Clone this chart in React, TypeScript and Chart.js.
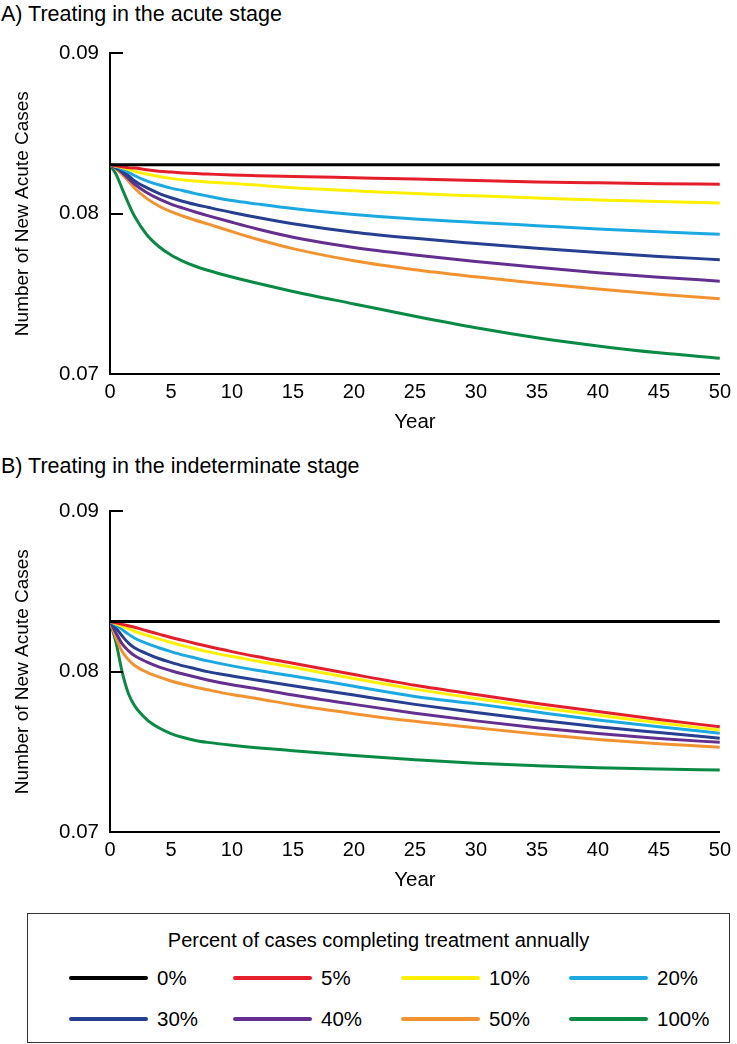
import React, { useEffect, useRef } from "react";
import { Chart, registerables } from "chart.js";

Chart.register(...registerables);

const years = [0, 0.5, 1, 1.5, 2, 3, 4, 5, 6, 7, 8, 10, 12, 15, 20, 25, 30, 35, 40, 45, 50];
const xTickStep = 5;
const yTickLabels = ["0.07", "0.08", "0.09"];
const seriesLabels = ["0%", "5%", "10%", "20%", "30%", "40%", "50%", "100%"];
const seriesColors = ["#000000", "#e41f2b", "#fff000", "#1ba9e1", "#263f90", "#64308f", "#f29331", "#0a8b45"];

// Panel A: treating in the acute stage
const acute0 = [0.08305, 0.08305, 0.08305, 0.08305, 0.08305, 0.08305, 0.08305, 0.08305, 0.08305, 0.08305, 0.08305, 0.08305, 0.08305, 0.08305, 0.08305, 0.08305, 0.08305, 0.08305, 0.08305, 0.08305, 0.08305];
const acute5 = [0.08305, 0.08299, 0.08293, 0.08287, 0.08284, 0.08274, 0.08265, 0.08259, 0.08254, 0.0825, 0.08247, 0.08241, 0.08237, 0.08232, 0.08224, 0.08216, 0.08207, 0.08198, 0.08192, 0.08187, 0.08183];
const acute10 = [0.08305, 0.08296, 0.08287, 0.08276, 0.08265, 0.08247, 0.08232, 0.0822, 0.0821, 0.08204, 0.08198, 0.08189, 0.08178, 0.08162, 0.08143, 0.08125, 0.08111, 0.08098, 0.08085, 0.08076, 0.08067];
const acute20 = [0.08305, 0.08293, 0.08277, 0.08259, 0.08238, 0.08204, 0.0818, 0.08159, 0.08143, 0.08125, 0.0811, 0.08082, 0.08061, 0.08032, 0.07995, 0.07966, 0.07945, 0.07925, 0.07905, 0.07887, 0.07872];
const acute30 = [0.08305, 0.08287, 0.08265, 0.08238, 0.08205, 0.08162, 0.08127, 0.08099, 0.08076, 0.08057, 0.0804, 0.08007, 0.07977, 0.07937, 0.07884, 0.07846, 0.07814, 0.07784, 0.07757, 0.07733, 0.07713];
const acute40 = [0.08305, 0.08284, 0.08256, 0.0822, 0.08185, 0.08132, 0.08092, 0.0806, 0.08034, 0.0801, 0.07988, 0.07946, 0.07906, 0.07853, 0.07789, 0.07742, 0.07702, 0.07665, 0.07632, 0.07604, 0.07579];
const acute50 = [0.08305, 0.0828, 0.08244, 0.08205, 0.0816, 0.08095, 0.08048, 0.08012, 0.07984, 0.07959, 0.07936, 0.07888, 0.07842, 0.07782, 0.07706, 0.0765, 0.07606, 0.07566, 0.0753, 0.07498, 0.0747];
const acute100 = [0.08305, 0.08245, 0.08155, 0.08065, 0.07985, 0.0787, 0.07795, 0.07742, 0.07703, 0.07672, 0.07647, 0.07605, 0.07567, 0.07515, 0.07437, 0.0736, 0.07288, 0.07226, 0.07175, 0.07132, 0.07098];

// Panel B: treating in the indeterminate stage
const indet0 = [0.08313, 0.08313, 0.08313, 0.08313, 0.08313, 0.08313, 0.08313, 0.08313, 0.08313, 0.08313, 0.08313, 0.08313, 0.08313, 0.08313, 0.08313, 0.08313, 0.08313, 0.08313, 0.08313, 0.08313, 0.08313];
const indet5 = [0.08313, 0.08304, 0.08295, 0.08286, 0.08277, 0.08255, 0.08234, 0.08213, 0.08195, 0.08176, 0.08158, 0.08125, 0.08094, 0.08052, 0.07982, 0.07915, 0.07857, 0.07802, 0.07751, 0.07702, 0.07656];
const indet10 = [0.08313, 0.08298, 0.08283, 0.08268, 0.08252, 0.08228, 0.08204, 0.08182, 0.08161, 0.08143, 0.08125, 0.08094, 0.08067, 0.08027, 0.07957, 0.07891, 0.07833, 0.07778, 0.07729, 0.07681, 0.07636];
const indet20 = [0.08313, 0.08289, 0.08262, 0.08234, 0.0821, 0.08176, 0.08149, 0.08125, 0.08103, 0.08085, 0.08067, 0.08036, 0.08009, 0.07973, 0.07909, 0.07845, 0.07799, 0.07748, 0.07699, 0.07656, 0.07616];
const indet30 = [0.08313, 0.08271, 0.08222, 0.08179, 0.08149, 0.08113, 0.08082, 0.08058, 0.08036, 0.08018, 0.08, 0.07973, 0.07948, 0.07912, 0.07854, 0.07796, 0.07745, 0.07699, 0.07656, 0.0762, 0.07585];
const indet40 = [0.08313, 0.0824, 0.08173, 0.08131, 0.081, 0.08061, 0.0803, 0.08006, 0.07985, 0.07967, 0.07948, 0.07918, 0.07894, 0.07854, 0.07796, 0.07741, 0.07693, 0.0765, 0.07614, 0.07583, 0.07559];
const indet50 = [0.08313, 0.0821, 0.08125, 0.08076, 0.0804, 0.07997, 0.07967, 0.07942, 0.07921, 0.07903, 0.07887, 0.07857, 0.07833, 0.07793, 0.07738, 0.0769, 0.0765, 0.07611, 0.07577, 0.0755, 0.07529];
const indet100 = [0.08313, 0.08179, 0.07997, 0.07865, 0.0779, 0.07703, 0.0765, 0.07614, 0.07589, 0.07571, 0.07559, 0.07541, 0.07526, 0.07507, 0.07477, 0.0745, 0.07428, 0.07413, 0.07401, 0.07393, 0.07387];

const acuteSeries = [acute0, acute5, acute10, acute20, acute30, acute40, acute50, acute100];
const indetSeries = [indet0, indet5, indet10, indet20, indet30, indet40, indet50, indet100];

const FONT = 'Arial, "Liberation Sans", Helvetica, sans-serif';

const inwardTicks = {
  id: "inwardTicks",
  afterDraw(chart: any) {
    const ys = chart.scales.y;
    const ctx = chart.ctx;
    const left = chart.chartArea.left;
    ctx.save();
    ctx.strokeStyle = "#000";
    ctx.lineWidth = 2;
    ys.ticks.forEach((t: any) => {
      const py = Math.round(ys.getPixelForValue(t.value));
      ctx.beginPath();
      ctx.moveTo(left, py);
      ctx.lineTo(left + 13, py);
      ctx.stroke();
    });
    ctx.restore();
  },
};

function Panel({ series, top }: { series: number[][]; top: number }) {
  const ref = useRef<HTMLCanvasElement>(null);
  useEffect(() => {
    if (!ref.current) return;
    const chart = new Chart(ref.current, {
      type: "line",
      data: {
        datasets: series.map((arr, i) => ({
          label: seriesLabels[i],
          data: years.map((x, j) => ({ x, y: arr[j] })),
          borderColor: seriesColors[i],
          backgroundColor: seriesColors[i],
          borderWidth: 3,
          pointRadius: 0,
          cubicInterpolationMode: "monotone" as const,
          fill: false,
        })),
      },
      options: {
        animation: false,
        responsive: false,
        devicePixelRatio: 1,
        layout: { padding: { left: 7, right: 15, top: 16, bottom: 0 } },
        plugins: { legend: { display: false }, tooltip: { enabled: false } },
        scales: {
          x: {
            type: "linear",
            min: 0,
            max: 50,
            grid: { display: false, drawTicks: false },
            border: { display: true, color: "#000", width: 2 },
            ticks: {
              stepSize: xTickStep,
              padding: 6,
              color: "#000",
              font: { family: FONT, size: 20 },
              maxRotation: 0,
              autoSkip: false,
            },
            title: {
              display: true,
              text: "Year",
              color: "#000",
              font: { family: FONT, size: 20.5 },
              padding: { top: 4, bottom: 4 },
            },
            afterFit(scale: any) {
              scale.height = 65;
            },
          },
          y: {
            type: "linear",
            min: 0.07,
            max: 0.09,
            grid: { display: false, drawTicks: false },
            border: { display: true, color: "#000", width: 2 },
            ticks: {
              stepSize: 0.01,
              padding: 11,
              color: "#000",
              font: { family: FONT, size: 20.5 },
              callback: (v: any) => {
                const s = Number(v).toFixed(2);
                return yTickLabels.includes(s) ? s : "";
              },
            },
            title: {
              display: true,
              text: "Number of New Acute Cases",
              color: "#000",
              font: { family: FONT, size: 19 },
              padding: { top: 4, bottom: 4 },
            },
            afterFit(scale: any) {
              scale.width = 103;
            },
          },
        },
      },
      plugins: [inwardTicks],
    } as any);
    return () => chart.destroy();
  }, [series]);
  return (
    <canvas
      ref={ref}
      width={737}
      height={409}
      style={{ position: "absolute", left: 0, top, width: 737, height: 409 }}
    />
  );
}

function LegendBox() {
  const colX = [41, 205, 373, 541];
  const rowY = [64, 105];
  return (
    <div
      style={{
        position: "absolute",
        left: 27,
        top: 913,
        width: 703,
        height: 130,
        border: "1.5px solid #333",
        boxSizing: "border-box",
        fontFamily: FONT,
        color: "#000",
      }}
    >
      <div
        style={{
          position: "absolute",
          left: 0,
          width: "100%",
          top: 14,
          height: 24,
          lineHeight: "24px",
          textAlign: "center",
          fontSize: 20,
          whiteSpace: "nowrap",
        }}
      >
        Percent of cases completing treatment annually
      </div>
      {seriesLabels.map((lab, i) => {
        const cx = colX[i % 4];
        const cy = rowY[Math.floor(i / 4)];
        return (
          <div key={lab}>
            <div
              style={{
                position: "absolute",
                left: cx,
                top: cy - 2,
                width: 79,
                height: 4,
                borderRadius: 2,
                background: seriesColors[i],
              }}
            />
            <div
              style={{
                position: "absolute",
                left: cx + 88,
                top: cy - 12,
                height: 24,
                lineHeight: "24px",
                fontSize: 20.5,
                whiteSpace: "nowrap",
              }}
            >
              {lab}
            </div>
          </div>
        );
      })}
    </div>
  );
}

export default function App() {
  const titleStyle: React.CSSProperties = {
    position: "absolute",
    left: 1,
    fontSize: 21.5,
    height: 26,
    lineHeight: "26px",
    fontFamily: FONT,
    color: "#000",
    whiteSpace: "nowrap",
  };
  return (
    <div
      style={{
        position: "absolute",
        left: 0,
        top: 0,
        width: 737,
        height: 1044,
        background: "#fff",
        overflow: "hidden",
      }}
    >
      <div style={{ ...titleStyle, top: 1 }}>A) Treating in the acute stage</div>
      <Panel series={acuteSeries} top={30} />
      <div style={{ ...titleStyle, top: 453 }}>B) Treating in the indeterminate stage</div>
      <Panel series={indetSeries} top={488} />
      <LegendBox />
    </div>
  );
}
